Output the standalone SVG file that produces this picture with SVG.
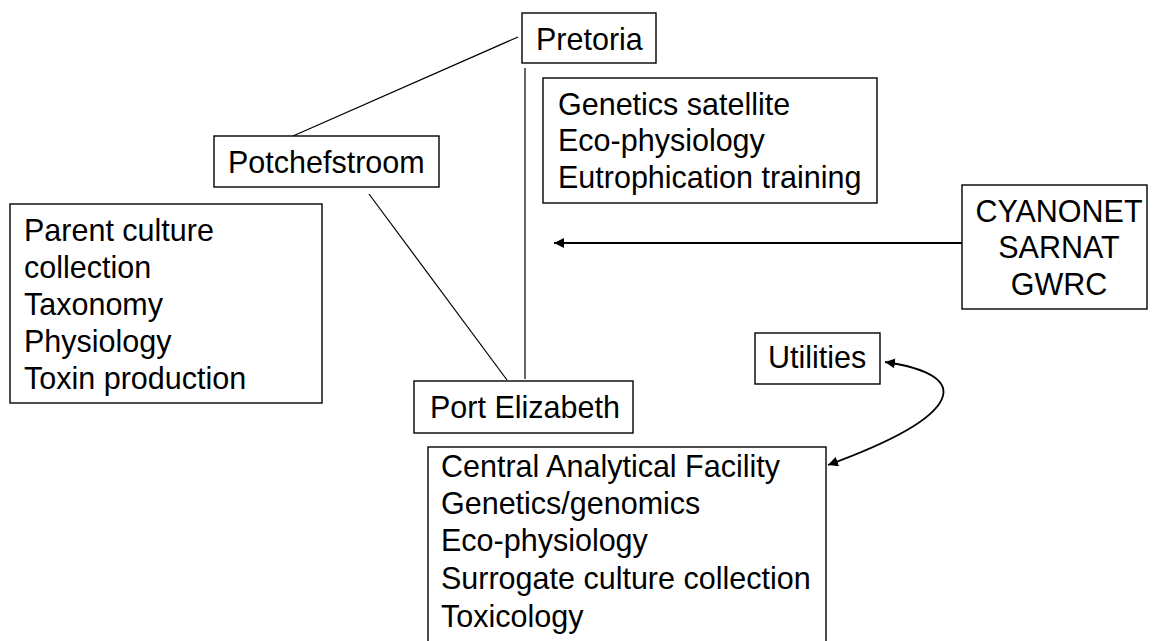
<svg xmlns="http://www.w3.org/2000/svg" width="1154" height="641" viewBox="0 0 1154 641">
<style>
.box{fill:#fff;stroke:#000;stroke-width:1.4}
.t{font-family:"Liberation Sans",Arial,sans-serif;font-size:30.5px;fill:#000}
.ln{stroke:#000;stroke-width:1.2;fill:none}
.ar{stroke:#000;stroke-width:1.8;fill:none}
</style>
<defs>
<marker id="ah" viewBox="0 0 10 10" refX="10" refY="5" markerWidth="10" markerHeight="10" markerUnits="userSpaceOnUse" orient="auto-start-reverse">
<path d="M0,0 L10,5 L0,10 Z" fill="#000"/>
</marker>
</defs>
<rect width="1154" height="641" fill="#fff"/>
<g id="connectors">
<line class="ln" x1="293" y1="136" x2="518" y2="37"/>
<line class="ln" x1="369" y1="194" x2="507" y2="380"/>
<line class="ln" x1="525" y1="68" x2="525" y2="379"/>
<line class="ar" x1="962" y1="243" x2="554" y2="243" marker-end="url(#ah)"/>
<path class="ar" d="M885,362 C975,375 965,415 828,465" marker-start="url(#ah)" marker-end="url(#ah)"/>
</g>
<g id="pretoria">
<rect class="box" x="522" y="13" width="134" height="50"/>
<text class="t" x="536" y="50">Pretoria</text>
</g>
<g id="potchefstroom">
<rect class="box" x="214" y="136" width="225" height="51"/>
<text class="t" x="228" y="173">Potchefstroom</text>
</g>
<g id="potch-roles">
<rect class="box" x="10" y="204" width="312" height="199"/>
<text class="t" x="24" y="241">Parent culture</text>
<text class="t" x="24" y="278">collection</text>
<text class="t" x="24" y="315">Taxonomy</text>
<text class="t" x="24" y="352">Physiology</text>
<text class="t" x="24" y="389">Toxin production</text>
</g>
<g id="pretoria-roles">
<rect class="box" x="543" y="78" width="334" height="125"/>
<text class="t" x="558" y="115">Genetics satellite</text>
<text class="t" x="558" y="151">Eco-physiology</text>
<text class="t" x="558" y="188">Eutrophication training</text>
</g>
<g id="networks">
<rect class="box" x="962" y="185" width="185" height="124"/>
<text class="t" x="1059" y="222" text-anchor="middle">CYANONET</text>
<text class="t" x="1059" y="258" text-anchor="middle">SARNAT</text>
<text class="t" x="1059" y="295" text-anchor="middle">GWRC</text>
</g>
<g id="utilities">
<rect class="box" x="755" y="333" width="125" height="51"/>
<text class="t" x="768" y="368">Utilities</text>
</g>
<g id="port-elizabeth">
<rect class="box" x="414" y="381" width="219" height="52"/>
<text class="t" x="430" y="418">Port Elizabeth</text>
</g>
<g id="pe-roles">
<rect class="box" x="428" y="447" width="398" height="220"/>
<text class="t" x="441" y="477">Central Analytical Facility</text>
<text class="t" x="441" y="514">Genetics/genomics</text>
<text class="t" x="441" y="551">Eco-physiology</text>
<text class="t" x="441" y="589">Surrogate culture collection</text>
<text class="t" x="441" y="627">Toxicology</text>
</g>
</svg>
